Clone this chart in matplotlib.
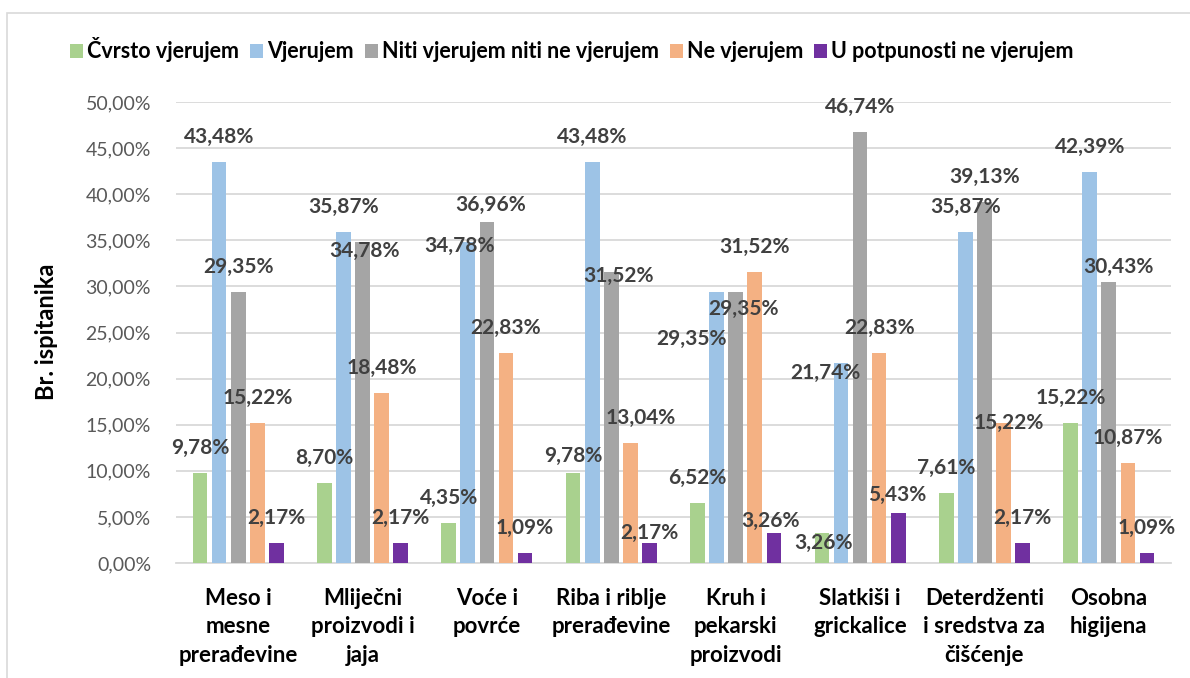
import numpy as np
import matplotlib
matplotlib.use("Agg")
import matplotlib.pyplot as plt
from matplotlib.patches import Rectangle
from matplotlib.ticker import FuncFormatter, MultipleLocator

plt.rcParams['font.family'] = ['Lato', 'DejaVu Sans']

categories = ["Meso i\nmesne\nprerađevine", "Mliječni\nproizvodi i\njaja", "Voće i\npovrće",
              "Riba i riblje\nprerađevine", "Kruh i\npekarski\nproizvodi", "Slatkiši i\ngrickalice",
              "Deterdženti\ni sredstva za\nčišćenje", "Osobna\nhigijena"]
series_names = ["Čvrsto vjerujem", "Vjerujem", "Niti vjerujem niti ne vjerujem",
                "Ne vjerujem", "U potpunosti ne vjerujem"]

cvrsto = [9.78, 8.70, 4.35, 9.78, 6.52, 3.26, 7.61, 15.22]
vjerujem = [43.48, 35.87, 34.78, 43.48, 29.35, 21.74, 35.87, 42.39]
niti = [29.35, 34.78, 36.96, 31.52, 29.35, 46.74, 39.13, 30.43]
ne_vjerujem = [15.22, 18.48, 22.83, 13.04, 31.52, 22.83, 15.22, 10.87]
u_potpunosti = [2.17, 2.17, 1.09, 2.17, 3.26, 5.43, 2.17, 1.09]

colors = ["#A9D18E", "#9DC3E6", "#A5A5A5", "#F4B183", "#7030A0"]

# labels that were dragged by hand in the original (pixels, y up)
label_shift = {
    (1, 2): (2, -34), (2, 1): (-8, -29), (2, 2): (4, -8),
    (3, 0): (0, -8), (3, 2): (7, -29), (3, 3): (10, 0), (3, 4): (0, -15),
    (4, 1): (-25, -72), (4, 2): (8, -42), (4, 4): (-3, -13),
    (5, 0): (2, -35), (5, 1): (-16, -35), (5, 4): (-1, -7),
    (6, 3): (5, -25), (7, 2): (10, -10),
}

fig = plt.figure(figsize=(11.9, 6.78), dpi=100)
ax = fig.add_axes([0.1479, 0.1696, 0.8361, 0.6799])

# outer chart frame (only left and top edges are visible)
fig.patches.append(Rectangle((7 / 1190, -0.1), 1.2, 1 - 12.5 / 678 + 0.1, transform=fig.transFigure,
                             fill=False, edgecolor="#d9d9d9", linewidth=1.2))

x = np.arange(len(categories))
width = 0.118
step = 0.1535
all_series = [cvrsto, vjerujem, niti, ne_vjerujem, u_potpunosti]

for s, vals in enumerate(all_series):
    pos = x + (s - 2) * step
    bars = ax.bar(pos, np.array(vals) / 100, width, color=colors[s], label=series_names[s], zorder=3)
    for c, (b, v) in enumerate(zip(bars, vals)):
        dx, dy = label_shift.get((c, s), (0, 0))
        ax.annotate(f"{v:.2f}%".replace(".", ","),
                    (b.get_x() + b.get_width() / 2, b.get_height()),
                    xytext=(dx, 25 + dy), textcoords="offset pixels",
                    ha="center", va="center", fontsize=15, fontweight="bold",
                    color="#404040", zorder=5)

ax.set_xlim(-0.5, len(categories) - 0.5)
ax.set_ylim(0, 0.5)
ax.yaxis.set_major_locator(MultipleLocator(0.05))
ax.yaxis.set_major_formatter(FuncFormatter(lambda v, p: f"{v * 100:.2f}%".replace(".", ",")))
ax.grid(axis="y", color="#d9d9d9", linewidth=1.3, zorder=0)
for sp in ["top", "right", "left"]:
    ax.spines[sp].set_visible(False)
ax.spines["bottom"].set_color("#d9d9d9")
ax.spines["bottom"].set_linewidth(1.3)

ax.set_xticks(x)
ax.set_xticklabels(categories, fontsize=16, fontweight="bold", color="black", linespacing=1.43)
ax.tick_params(axis="x", length=0, pad=18)
ax.tick_params(axis="y", length=0, pad=18, labelsize=14, labelcolor="#595959")

ax.set_ylabel("Br. ispitanika", fontsize=17, fontweight="bold", color="black")
ax.yaxis.set_label_coords(-0.1186, 0.501)

fig.legend(loc="center", bbox_to_anchor=(572 / 1190, 1 - 50 / 678), ncol=5, frameon=False,
           prop={"size": 15.5, "weight": "bold"}, handlelength=0.6, handleheight=0.6,
           handletextpad=0.2, columnspacing=0.5, borderaxespad=0)

fig.savefig("out.png", dpi=100)
